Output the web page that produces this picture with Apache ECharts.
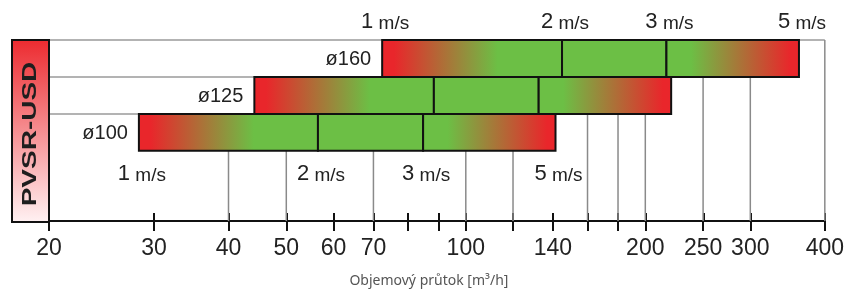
<!DOCTYPE html>
<html><head><meta charset="utf-8">
<script src="https://cdn.jsdelivr.net/npm/echarts@6/dist/echarts.min.js"></script>
<style>html,body{margin:0;padding:0;background:#fff}#c{width:847px;height:293px}</style>
</head><body><div id="c"></div>
<script>
// ---- data ----
const diameters = ['ø160', 'ø125', 'ø100'];
const flowAt1 = [72.4, 44.2, 28.3];    // m3/h at 1 m/s
const flowAt2 = [145, 88.4, 56.5];     // at 2 m/s
const flowAt3 = [217, 132.5, 84.8];    // at 3 m/s
const flowAt5 = [362, 221, 141.4];     // at 5 m/s
const speedNames = ['1', '2', '3', '5'];
const axisLabelValues = [20, 30, 40, 50, 60, 70, 100, 140, 200, 250, 300, 400];
const axisTickValues = [20, 30, 40, 50, 60, 70, 80, 90, 100, 120, 140, 160, 180, 200, 250, 300, 400];
const gridLineValues = [40, 50, 70, 100, 120, 160, 180, 200, 250, 300, 400];
const sideTitle = 'PVSR-USD';
const axisTitle = 'Objemový průtok [m³/h]';
const xMin = 20, xMax = 400;

// ---- styles ----
const RED = '#e9262b', GREEN = '#6cbf45', INK = '#1e1e1e';
const FONT = '"Liberation Sans", Arial, sans-serif';
const ROWS_SPAN = 4.9;

const chart = echarts.init(document.getElementById('c'));

const rowsData = diameters.map((d, i) => [i, flowAt1[i], flowAt2[i], flowAt3[i], flowAt5[i]]);
const topLineData = diameters.map((d, i) => [i, i === 0 ? xMax : flowAt1[i]]);
function topRowFor(v) {
  let top = 0;
  for (let i = 0; i < diameters.length; i++) {
    if (v >= flowAt1[i] && v <= flowAt5[i]) top = i + 1;
  }
  return top;
}
const gridData = gridLineValues.map(v => [v, topRowFor(v)]);
const speedLists = [flowAt1, flowAt2, flowAt3, flowAt5];
const speedLabelData = [];
speedLists.forEach((arr, k) => {
  speedLabelData.push([arr[0], 0, k, -1]);
  speedLabelData.push([arr[diameters.length - 1], diameters.length, k, 1]);
});

function gradRG() {
  return new echarts.graphic.LinearGradient(0, 0, 1, 0, [
    {offset: 0, color: RED}, {offset: 0.07, color: RED},
    {offset: 0.64, color: GREEN}, {offset: 1, color: GREEN}]);
}
function gradGR() {
  return new echarts.graphic.LinearGradient(0, 0, 1, 0, [
    {offset: 0, color: GREEN}, {offset: 0.19, color: GREEN},
    {offset: 0.93, color: RED}, {offset: 1, color: RED}]);
}

const gridBox = {left: 49, right: 22, top: 40, bottom: 71};
const tickCommon = {type: 'log', logBase: 10, min: xMin, max: xMax, position: 'bottom',
  splitLine: {show: false}, minorTick: {show: false}, minorSplitLine: {show: false}};

chart.setOption({
  animation: false,
  grid: [Object.assign({}, gridBox), Object.assign({}, gridBox)],
  xAxis: [
    Object.assign({}, tickCommon, {gridIndex: 0,
      axisLine: {show: true, onZero: false, lineStyle: {color: '#111', width: 2}},
      axisTick: {show: true, customValues: axisTickValues, length: 10, inside: false,
        lineStyle: {color: '#111', width: 2}},
      axisLabel: {show: true, customValues: axisLabelValues, fontSize: 23, color: '#222',
        margin: 16, fontFamily: FONT, formatter: v => String(Math.round(v))},
      name: axisTitle, nameLocation: 'middle', nameGap: 53,
      nameTextStyle: {fontSize: 14, color: '#555', fontFamily: '"Noto Sans", sans-serif',
        padding: [0, 16, 0, 0]}
    }),
    Object.assign({}, tickCommon, {gridIndex: 1,
      axisLine: {show: false, onZero: false},
      axisTick: {show: true, customValues: axisTickValues, length: 9, inside: true,
        lineStyle: {color: '#111', width: 2}},
      axisLabel: {show: false}
    })
  ],
  yAxis: [
    {type: 'value', gridIndex: 0, min: 0, max: ROWS_SPAN, inverse: true, show: false},
    {type: 'value', gridIndex: 1, min: 0, max: ROWS_SPAN, inverse: true, show: false}
  ],
  graphic: [
    {type: 'rect', shape: {x: 12, y: 40, width: 37, height: 182}, z: 10,
      style: {fill: new echarts.graphic.LinearGradient(0, 0, 0, 1, [
        {offset: 0, color: '#ec2a2f'}, {offset: 1, color: '#fff2f3'}]),
        stroke: '#111', lineWidth: 2}},
    {type: 'text', x: 30, y: 134, rotation: Math.PI / 2, scaleX: 1.4, z: 11,
      style: {text: sideTitle, align: 'center', verticalAlign: 'middle', fontSize: 20,
        fontWeight: 'bold', fontFamily: FONT, fill: INK}}
  ],
  series: [
    { // horizontal frame lines (row tops)
      type: 'custom', z: 1, silent: true, data: topLineData, encode: {x: 1, y: 0},
      renderItem: (params, api) => {
        const row = api.value(0);
        const a = api.coord([xMin, row]), b = api.coord([api.value(1), row]);
        return {type: 'line', shape: {x1: a[0], y1: a[1], x2: b[0], y2: b[1]},
          style: {stroke: '#9a9a9a', lineWidth: 1.5}};
      }
    },
    { // vertical grid lines
      type: 'custom', z: 1, silent: true, data: gridData, encode: {x: 0, y: 1},
      renderItem: (params, api) => {
        const v = api.value(0);
        const a = api.coord([v, api.value(1)]), b = api.coord([v, ROWS_SPAN]);
        return {type: 'line', shape: {x1: a[0], y1: a[1], x2: b[0], y2: b[1]},
          style: {stroke: '#8a8a8a', lineWidth: 1.5}};
      }
    },
    { // velocity bars
      type: 'custom', z: 2, silent: true, data: rowsData, encode: {x: [1, 2, 3, 4], y: 0},
      renderItem: (params, api) => {
        const row = api.value(0);
        const vals = [api.value(1), api.value(2), api.value(3), api.value(4)];
        const pts = vals.map(v => api.coord([v, row]));
        const yTop = pts[0][1];
        const h = api.coord([vals[0], row + 1])[1] - yTop;
        const fills = [gradRG(), GREEN, gradGR()];
        const children = [];
        for (let k = 0; k < 3; k++) {
          children.push({type: 'rect',
            shape: {x: pts[k][0], y: yTop, width: pts[k + 1][0] - pts[k][0], height: h},
            style: {fill: fills[k], stroke: '#111', lineWidth: 2}});
        }
        children.push({type: 'text', style: {text: diameters[row], x: pts[0][0] - 11,
          y: yTop + h / 2 + 1, align: 'right', verticalAlign: 'middle', fill: '#222',
          fontSize: 20, fontFamily: FONT}});
        return {type: 'group', children};
      }
    },
    { // velocity labels
      type: 'custom', z: 3, silent: true, data: speedLabelData, encode: {x: 0, y: 1},
      renderItem: (params, api) => {
        const p = api.coord([api.value(0), api.value(1)]);
        const side = api.value(3);
        return {type: 'text', style: {
          text: '{n|' + speedNames[api.value(2)] + '}{u| m/s}',
          x: p[0] + 3, y: side < 0 ? p[1] - 7 : p[1] + 12,
          align: 'center', verticalAlign: side < 0 ? 'bottom' : 'top', fill: '#222',
          rich: {
            n: {fontSize: 22, fontFamily: FONT, fill: '#222', verticalAlign: 'bottom'},
            u: {fontSize: 19, fontFamily: FONT, fill: '#222', verticalAlign: 'bottom'}
          }}};
      }
    }
  ]
});
</script></body></html>
